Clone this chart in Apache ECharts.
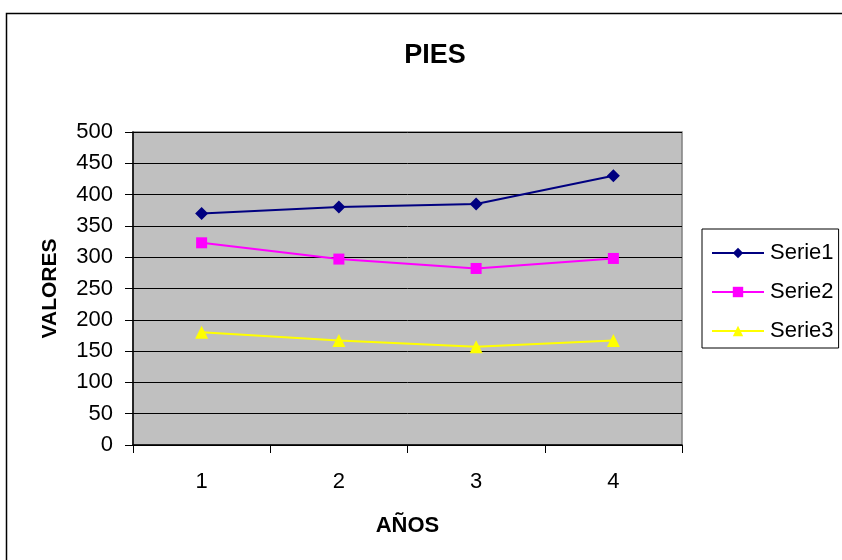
<!DOCTYPE html>
<html>
<head>
<meta charset="utf-8">
<script src="https://cdn.jsdelivr.net/npm/echarts@6/dist/echarts.min.js"></script>
<style>
  html, body { margin: 0; padding: 0; background: #fff; }
  #chart { width: 842px; height: 560px; }
</style>
</head>
<body>
<div id="chart"></div>
<script>
// Years on the category axis
const categories = ['1', '2', '3', '4'];

// Series values
const serie1 = [370, 380, 385, 430];
const serie2 = [323, 297, 282, 298];
const serie3 = [180, 167, 157, 167];

// Value axis range
const yMin = 0;
const yMax = 500;
const yStep = 50;

const FONT = '"Liberation Sans", Arial, sans-serif';

const chart = echarts.init(document.getElementById('chart'), null, { renderer: 'canvas' });

function lineSeries(name, data, color, symbol, size) {
  return {
    name: name,
    type: 'line',
    data: data,
    symbol: symbol,
    symbolSize: size,
    showAllSymbol: true,
    lineStyle: { color: color, width: 2 },
    itemStyle: { color: color, borderWidth: 0 },
    emphasis: { disabled: true },
    animation: false,
    z: 5
  };
}

chart.setOption({
  backgroundColor: '#ffffff',
  animation: false,
  graphic: [{
    type: 'rect',
    shape: { x: 6.5, y: 13.5, width: 860, height: 600 },
    style: { fill: 'none', stroke: '#000', lineWidth: 1.5 },
    silent: true,
    z: -10
  }],
  title: {
    text: 'PIES',
    left: 430,
    textAlign: 'center',
    top: 37,
    textStyle: { fontFamily: FONT, fontSize: 27, fontWeight: 'bold', color: '#000' }
  },
  legend: {
    orient: 'vertical',
    left: 702,
    top: 229,
    padding: [13, 5, 6, 9],
    itemGap: 17,
    itemWidth: 52,
    itemHeight: 13,
    borderColor: '#000',
    borderWidth: 1,
    backgroundColor: '#fff',
    textStyle: { fontFamily: FONT, fontSize: 22, color: '#000', padding: [0, 0, 0, 1] },
    data: ['Serie1', 'Serie2', 'Serie3']
  },
  grid: {
    left: 133,
    top: 132,
    right: 160,
    bottom: 115,
    show: true,
    backgroundColor: '#c0c0c0',
    borderColor: '#808080',
    borderWidth: 1.5
  },
  xAxis: {
    type: 'category',
    data: categories,
    boundaryGap: true,
    name: 'AÑOS',
    nameLocation: 'middle',
    nameGap: 70,
    nameTextStyle: { fontFamily: FONT, fontSize: 22, fontWeight: 'bold', color: '#000' },
    axisLine: { lineStyle: { color: '#000', width: 1.5 } },
    axisTick: { show: true, length: 8, alignWithLabel: false, lineStyle: { color: '#000' } },
    axisLabel: { fontFamily: FONT, fontSize: 22, color: '#000', margin: 26 },
    splitLine: { show: false }
  },
  yAxis: {
    type: 'value',
    min: yMin,
    max: yMax,
    interval: yStep,
    name: 'VALORES',
    nameLocation: 'middle',
    nameGap: 72,
    nameRotate: 90,
    nameTextStyle: { fontFamily: FONT, fontSize: 21, fontWeight: 'bold', color: '#000' },
    axisLine: { show: true, lineStyle: { color: '#000', width: 1.5 } },
    axisTick: { show: true, length: 8, lineStyle: { color: '#000' } },
    axisLabel: { fontFamily: FONT, fontSize: 22, color: '#000', margin: 20 },
    splitLine: { show: true, lineStyle: { color: '#000', width: 1 } }
  },
  series: [
    lineSeries('Serie1', serie1, '#000080', 'diamond', 13),
    lineSeries('Serie2', serie2, '#ff00ff', 'rect', 11),
    lineSeries('Serie3', serie3, '#ffff00', 'triangle', 13)
  ]
});
</script>
</body>
</html>
